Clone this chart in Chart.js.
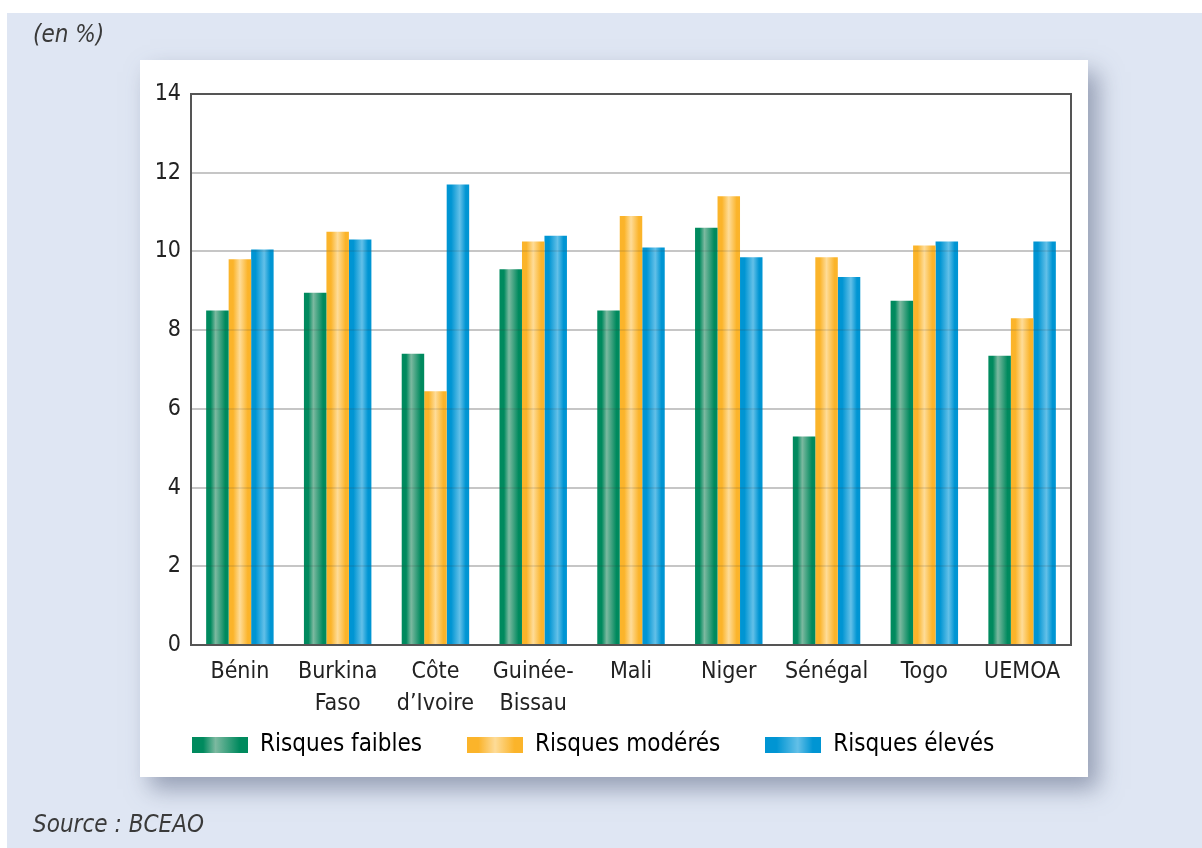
<!DOCTYPE html>
<html>
<head>
<meta charset="utf-8">
<script src="https://cdn.jsdelivr.net/npm/chart.js@4.4.1/dist/chart.umd.min.js"></script>
<style>
  html, body { margin: 0; padding: 0; width: 1202px; height: 848px; overflow: hidden; background: #ffffff; }
  #bg { position: absolute; left: 7px; top: 13px; width: 1195px; height: 835px; background: #dfe6f3; }
  #wrap { position: absolute; left: 0; top: 0; width: 1202px; height: 848px; }
  .note { position: absolute; font-family: "Liberation Sans Narrow", "DejaVu Sans Condensed", "Liberation Sans", sans-serif; font-style: italic; color: #3a3a3a; font-size: 24px; }
  #unit { left: 33px; top: 20px; }
  #source { left: 33px; top: 810px; }
</style>
</head>
<body>
<div id="bg"></div>
<div id="wrap"><canvas id="c" width="1202" height="848"></canvas></div>
<div class="note" id="unit">(en %)</div>
<div class="note" id="source">Source : BCEAO</div>
<script>
const categories = [["Bénin"], ["Burkina", "Faso"], ["Côte", "d’Ivoire"], ["Guinée-", "Bissau"], ["Mali"], ["Niger"], ["Sénégal"], ["Togo"], ["UEMOA"]];
const seriesNames = ["Risques faibles", "Risques modérés", "Risques élevés"];
const risquesFaibles = [8.5, 8.95, 7.4, 9.55, 8.5, 10.6, 5.3, 8.75, 7.35];
const risquesModeres = [9.8, 10.5, 6.45, 10.25, 10.9, 11.4, 9.85, 10.15, 8.3];
const risquesEleves  = [10.05, 10.3, 11.7, 10.4, 10.1, 9.85, 9.35, 10.25, 10.25];
const yTicks = [0, 2, 4, 6, 8, 10, 12, 14];

const palettes = [
  { edge: "#008a5e", mid: "#7cb9a0", base: "#0b8d63" },
  { edge: "#fbb42a", mid: "#fedc98", base: "#fbbd45" },
  { edge: "#0095d3", mid: "#63c0e8", base: "#109cd7" }
];
const midPos = [0.42, 0.5, 0.58];

function addStops(g, p, m) {
  g.addColorStop(0, p.edge);
  g.addColorStop(0.2, p.edge);
  g.addColorStop(m, p.mid);
  g.addColorStop(0.85, p.edge);
  g.addColorStop(1, p.edge);
  return g;
}
function makeGrad(ctx, x0, x1, p, m) {
  return addStops(ctx.createLinearGradient(x0, 0, x1, 0), p, m);
}
function legendSwatch(i) {
  const cv = document.createElement("canvas");
  cv.width = 56; cv.height = 16;
  const c = cv.getContext("2d");
  c.fillStyle = addStops(c.createLinearGradient(0, 0, 56, 0), palettes[i], midPos[i]);
  c.fillRect(0, 0, 56, 16);
  return cv;
}
const swatches = [0, 1, 2].map(legendSwatch);

const panelPlugin = {
  id: "panel",
  afterLayout(chart) {
    const lg = chart.legend;
    if (lg) { const h = lg.bottom - lg.top; lg.top = 688; lg.bottom = 688 + h; }
  },
  beforeDraw(chart) {
    const ctx = chart.ctx;
    ctx.save();
    ctx.shadowColor = "rgba(90,100,130,0.55)";
    ctx.shadowBlur = 22;
    ctx.shadowOffsetX = 10;
    ctx.shadowOffsetY = 12;
    ctx.fillStyle = "#ffffff";
    ctx.fillRect(140, 60, 948, 717);
    ctx.restore();
  },
  beforeDatasetsDraw(chart) {
    const ctx = chart.ctx;
    chart.data.datasets.forEach((ds, i) => {
      const meta = chart.getDatasetMeta(i);
      meta.data.forEach(el => {
        const x0 = el.x - el.width / 2, x1 = el.x + el.width / 2;
        el.options = Object.assign({}, el.options, { backgroundColor: makeGrad(ctx, x0, x1, palettes[i], midPos[i]) });
      });
    });
  },
  afterDatasetsDraw(chart) {
    const ctx = chart.ctx, a = chart.chartArea, y = chart.scales.y;
    ctx.save();
    ctx.strokeStyle = "rgba(60,60,60,0.12)";
    ctx.lineWidth = 2;
    yTicks.forEach(v => {
      if (v === 0 || v === 14) return;
      const py = Math.round(y.getPixelForValue(v));
      ctx.beginPath(); ctx.moveTo(a.left, py); ctx.lineTo(a.right, py); ctx.stroke();
    });
    ctx.strokeStyle = "#555555";
    ctx.lineWidth = 2;
    ctx.strokeRect(a.left, a.top, a.right - a.left, a.bottom - a.top);
    ctx.restore();
  }
};

const fontFam = '"Liberation Sans Narrow", "DejaVu Sans Condensed", "Liberation Sans", sans-serif';

new Chart(document.getElementById("c"), {
  type: "bar",
  data: {
    labels: categories,
    datasets: [
      { label: seriesNames[0], data: risquesFaibles, backgroundColor: palettes[0].base },
      { label: seriesNames[1], data: risquesModeres, backgroundColor: palettes[1].base },
      { label: seriesNames[2], data: risquesEleves, backgroundColor: palettes[2].base }
    ]
  },
  options: {
    responsive: false,
    animation: false,
    devicePixelRatio: 1,
    layout: { padding: { left: 147, right: 131, top: 94, bottom: 46 } },
    datasets: { bar: { categoryPercentage: 0.69, barPercentage: 1.0, borderWidth: 0 } },
    scales: {
      x: {
        grid: { display: false, drawTicks: false },
        border: { display: true, color: "#555555", width: 2 },
        ticks: { color: "#222222", font: { family: fontFam, size: 23, lineHeight: 1.35 }, padding: 12, maxRotation: 0, autoSkip: false },
        afterFit(scale) { scale.height = 78; }
      },
      y: {
        min: 0, max: 14,
        afterBuildTicks(scale) { scale.ticks = yTicks.map(v => ({ value: v })); },
        grid: { color: "#dadada", lineWidth: 2, drawTicks: false },
        border: { display: true, color: "#555555", width: 2 },
        ticks: { color: "#222222", font: { family: fontFam, size: 23 }, padding: 10 },
        afterFit(scale) { scale.width = 44; }
      }
    },
    plugins: {
      legend: {
        position: "bottom",
        align: "start",
        labels: {
          boxWidth: 56, boxHeight: 16, padding: 45,
          usePointStyle: true, pointStyleWidth: 56,
          color: "#222222",
          font: { family: fontFam, size: 24 },
          generateLabels(chart) {
            return chart.data.datasets.map((ds, i) => ({
              text: ds.label,
              fillStyle: palettes[i].base,
              strokeStyle: "rgba(0,0,0,0)",
              lineWidth: 0,
              pointStyle: swatches[i],
              datasetIndex: i,
              hidden: false
            }));
          }
        }
      },
      tooltip: { enabled: false }
    }
  },
  plugins: [panelPlugin]
});
</script>
</body>
</html>
